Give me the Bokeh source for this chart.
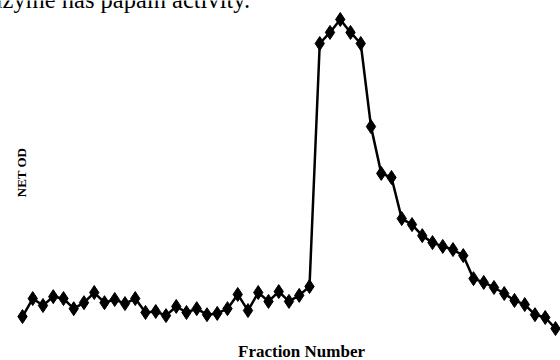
from bokeh.plotting import figure
from bokeh.models import Label, Range1d
from bokeh.embed import file_html
from bokeh.resources import INLINE

fractions = list(range(1, 54))
net_od = [0.060, 0.117, 0.095, 0.123, 0.117, 0.085, 0.104, 0.136, 0.104, 0.114,
          0.101, 0.117, 0.073, 0.076, 0.063, 0.092, 0.073, 0.085, 0.066, 0.070,
          0.085, 0.130, 0.079, 0.136, 0.108, 0.139, 0.108, 0.127, 0.155, 0.924,
          0.959, 1.000, 0.959, 0.924, 0.661, 0.513, 0.500, 0.370, 0.351, 0.316,
          0.294, 0.282, 0.272, 0.253, 0.180, 0.168, 0.152, 0.133, 0.111, 0.098,
          0.066, 0.057, 0.022]

caption = "enzyme has papain activity."
y_label = "NET OD"
x_label = "Fraction Number"

p = figure(width=560, height=360, output_backend="svg", toolbar_location=None,
           x_range=Range1d(-1.146, 53.488), y_range=Range1d(-0.079, 1.060),
           min_border=0)
p.xaxis.visible = False
p.yaxis.visible = False
p.grid.visible = False
p.outline_line_color = None
p.background_fill_color = "white"
p.border_fill_color = "white"

p.line(fractions, net_od, line_color="black", line_width=2.5)
p.scatter(fractions, net_od, marker="diamond", size=14, fill_color="black", line_color="black")

font = "Liberation Serif"
p.add_layout(Label(x=-21, y=361, x_units="screen", y_units="screen", text=caption,
                   text_font=font, text_font_size="24.5px", text_color="black",
                   text_baseline="alphabetic", text_align="left"))
p.add_layout(Label(x=21, y=188, x_units="screen", y_units="screen", text=y_label,
                   text_font=font, text_font_size="13px", text_font_style="bold",
                   text_color="black",
                   angle=1.5708, text_align="center", text_baseline="middle"))
p.add_layout(Label(x=301, y=9, x_units="screen", y_units="screen", text=x_label,
                   text_font=font, text_font_size="17px", text_font_style="bold",
                   text_color="black",
                   text_align="center", text_baseline="middle"))

open("out.html", "w").write(file_html(p, INLINE))
